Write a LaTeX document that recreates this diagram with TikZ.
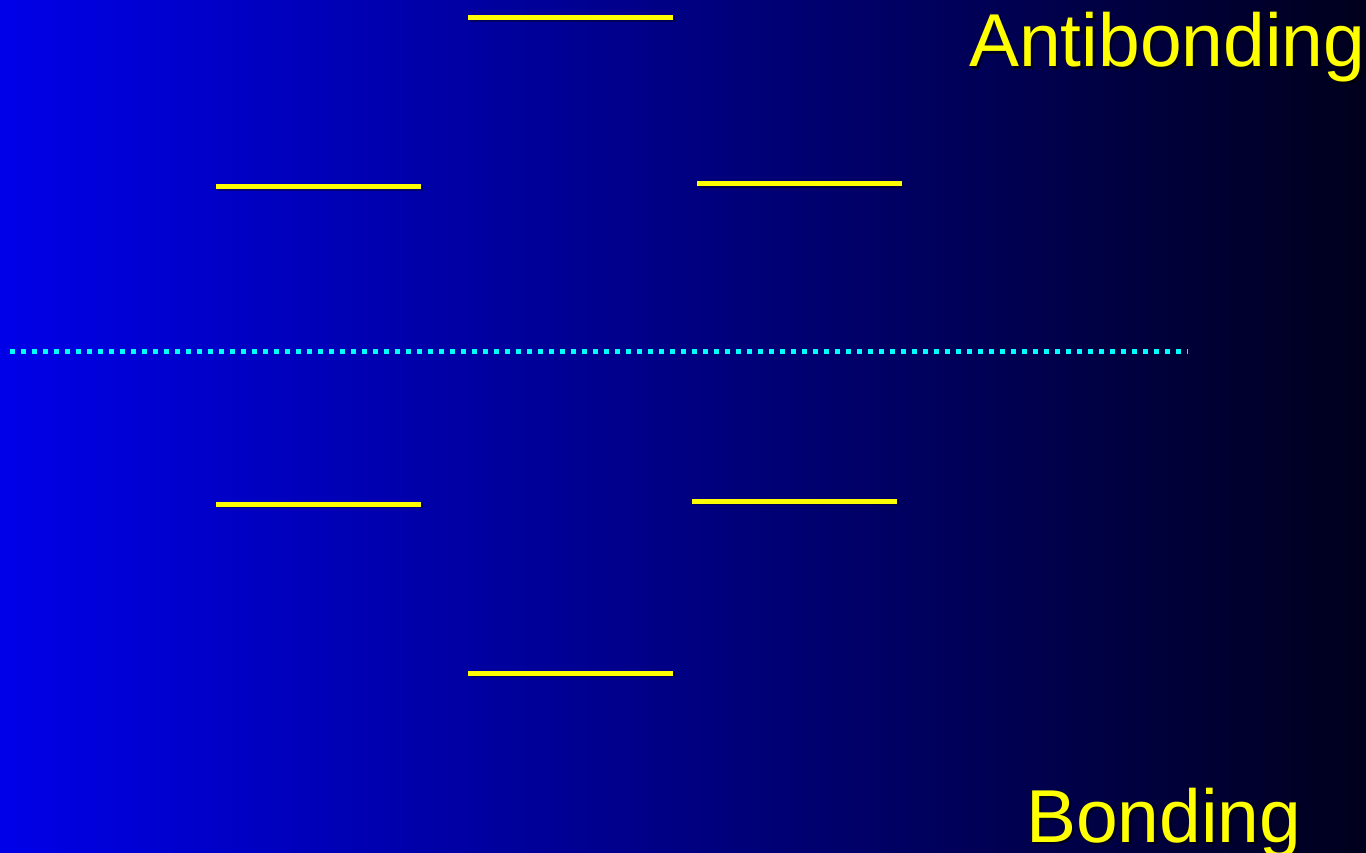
\documentclass[tikz,border=0pt]{standalone}
\usepackage{fontspec}
\setmainfont{Liberation Sans}
\definecolor{bgL}{RGB}{0,0,232}
\definecolor{bgM}{RGB}{0,0,160}
\definecolor{bgR}{RGB}{0,0,28}
\definecolor{lev}{RGB}{255,255,0}
\definecolor{dotc}{RGB}{0,255,255}
\tikzset{
  level/.style={draw=lev, line width=5pt},
  levshadow/.style={draw=black, line width=5pt, opacity=0.35},
  label/.style={inner sep=0pt, font=\fontsize{75}{80}\selectfont, text=lev},
  labshadow/.style={inner sep=0pt, font=\fontsize{75}{80}\selectfont, text=black, opacity=0.6},
}
\begin{document}
\begin{tikzpicture}[x=1pt,y=-1pt]
\useasboundingbox (0,0) rectangle (1366,853);
\shade[left color=bgL, middle color=bgM, right color=bgR] (0,0) rectangle (1366,853);
% levels
\foreach \xa/\xb/\yy in {468/673/18, 216/421/187, 697/902/184, 216/421/504, 692/897/501, 468/673/673}{
  \draw[levshadow] (\xa+1.5,\yy+1.5) -- (\xb+1.5,\yy+1.5);
  \draw[level] (\xa,\yy) -- (\xb,\yy);
}
% dotted midline
\coordinate (d1) at (10,351);
\coordinate (d2) at (1188,351);
\draw[dotc, line width=5pt, dash pattern=on 5pt off 6pt] (d1) -- (d2);
% labels
\node[labshadow, anchor=base west] at (971.5,69.5) {Antibonding};
\node[label, anchor=base west] (anti) at (969,67) {Antibonding};
\node[labshadow, anchor=base west] at (1028.5,844.5) {Bonding};
\node[label, anchor=base west] (bond) at (1026,842) {Bonding};
\end{tikzpicture}
\end{document}
